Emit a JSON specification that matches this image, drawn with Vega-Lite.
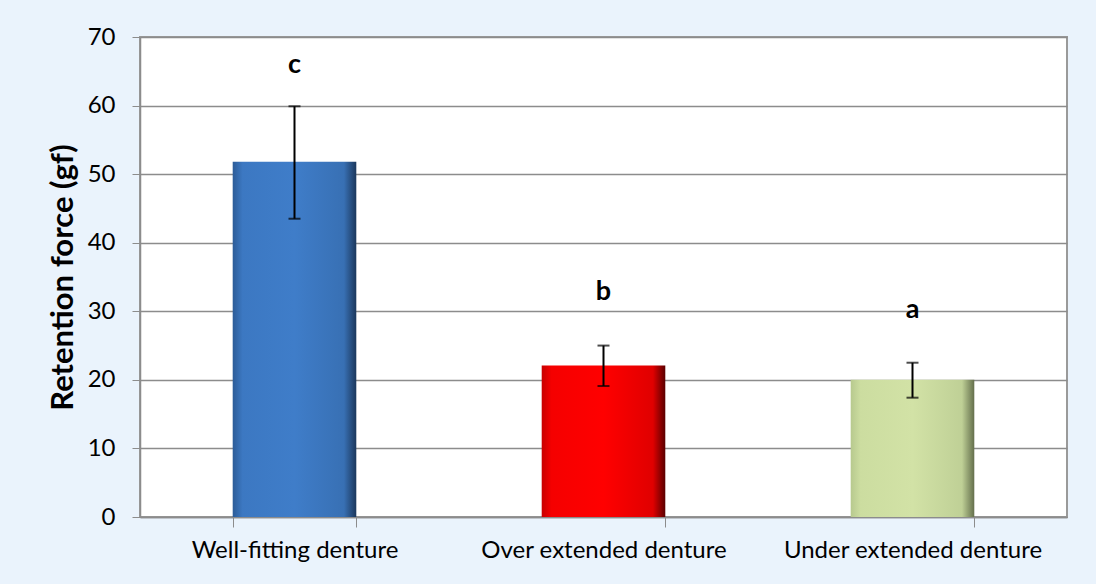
{
  "$schema": "https://vega.github.io/schema/vega-lite/v6.json",
  "autosize": {"type": "none"},
  "padding": {"left": 140, "top": 37, "right": 29, "bottom": 67},
  "width": 927,
  "height": 480,
  "background": "#EAF3FC",
  "config": {
    "font": "Lato",
    "view": {"fill": "#FFFFFF", "stroke": "#9A9A9A", "strokeWidth": 2},
    "axis": {"labelFont": "Lato", "titleFont": "Lato", "labelColor": "#000000", "titleColor": "#000000", "labelLimit": 0, "titleLimit": 0}
  },
  "data": {
    "values": [
      {"group": "Well-fitting denture", "mean": 51.8, "low": 43.5, "high": 59.9, "letter": "c", "letter_y": 65.9},
      {"group": "Over extended denture", "mean": 22.1, "low": 19.1, "high": 25.0, "letter": "b", "letter_y": 32.8},
      {"group": "Under extended denture", "mean": 20.0, "low": 17.4, "high": 22.5, "letter": "a", "letter_y": 30.2}
    ]
  },
  "encoding": {
    "x": {
      "field": "group", "type": "nominal", "sort": null,
      "scale": {"paddingInner": 0.6, "paddingOuter": 0.3},
      "axis": {"title": null, "labelAngle": 0, "labelFontSize": 24, "labelPadding": 11, "tickBand": "extent", "tickSize": 10, "tickColor": "#8C8C8C", "domainColor": "#8C8C8C", "domainWidth": 1.5, "grid": false}
    }
  },
  "layer": [
    {
      "mark": {"type": "bar", "opacity": 0},
      "encoding": {
        "y": {
          "field": "mean", "type": "quantitative",
          "scale": {"domain": [0, 70], "nice": false},
          "axis": {"title": "Retention force (gf)", "titleFontSize": 31, "titleFontWeight": "bold", "titlePadding": 8, "labelFontSize": 24, "labelPadding": 17, "values": [0,10,20,30,40,50,60,70], "tickSize": 8, "tickColor": "#8C8C8C", "domainColor": "#8C8C8C", "domainWidth": 1.5, "gridColor": "#8C8C8C", "gridWidth": 1.5}
        }
      }
    },
    {
      "transform": [{"filter": "datum.letter == 'c'"}],
      "mark": {"type": "bar", "color": {"gradient": "linear", "x1": 0, "y1": 0, "x2": 1, "y2": 0, "stops": [{"offset": 0, "color": "#2C5C98"}, {"offset": 0.08, "color": "#3C78C2"}, {"offset": 0.5, "color": "#3F7DC9"}, {"offset": 0.9, "color": "#3870B4"}, {"offset": 1, "color": "#1B375C"}]}},
      "encoding": {"y": {"field": "mean", "type": "quantitative"}}
    },
    {
      "transform": [{"filter": "datum.letter == 'b'"}],
      "mark": {"type": "bar", "color": {"gradient": "linear", "x1": 0, "y1": 0, "x2": 1, "y2": 0, "stops": [{"offset": 0, "color": "#C80000"}, {"offset": 0.08, "color": "#F50000"}, {"offset": 0.5, "color": "#FF0000"}, {"offset": 0.9, "color": "#E00000"}, {"offset": 1, "color": "#5A0000"}]}},
      "encoding": {"y": {"field": "mean", "type": "quantitative"}}
    },
    {
      "transform": [{"filter": "datum.letter == 'a'"}],
      "mark": {"type": "bar", "color": {"gradient": "linear", "x1": 0, "y1": 0, "x2": 1, "y2": 0, "stops": [{"offset": 0, "color": "#B7C98E"}, {"offset": 0.08, "color": "#CCDDA0"}, {"offset": 0.5, "color": "#D2E2A6"}, {"offset": 0.9, "color": "#BFD096"}, {"offset": 1, "color": "#646F4C"}]}},
      "encoding": {"y": {"field": "mean", "type": "quantitative"}}
    },
    {
      "mark": {"type": "rule", "color": "#000000", "strokeWidth": 2},
      "encoding": {"y": {"field": "low", "type": "quantitative"}, "y2": {"field": "high"}}
    },
    {
      "mark": {"type": "tick", "color": "#000000", "size": 12, "thickness": 2, "orient": "horizontal"},
      "encoding": {"y": {"field": "low", "type": "quantitative"}}
    },
    {
      "mark": {"type": "tick", "color": "#000000", "size": 12, "thickness": 2, "orient": "horizontal"},
      "encoding": {"y": {"field": "high", "type": "quantitative"}}
    },
    {
      "mark": {"type": "text", "fontSize": 27, "fontWeight": "bold", "color": "#000000", "baseline": "middle"},
      "encoding": {"y": {"field": "letter_y", "type": "quantitative"}, "text": {"field": "letter"}}
    }
  ]
}
